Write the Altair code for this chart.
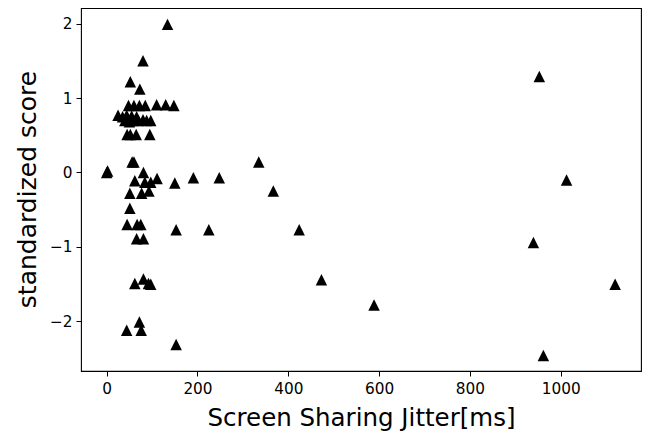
import altair as alt
import pandas as pd

jitter_ms = [
    0, 2, 134, 80, 52, 73,
    48, 60, 72, 85, 110, 130, 148,
    25, 35, 44, 55, 66,
    40, 50, 60, 70, 80, 88, 97,
    45, 52, 65, 95,
    56, 60, 335, 81,
    62, 84, 97, 111, 150, 191, 248,
    367, 51, 77, 93, 51,
    45, 67, 75, 153, 225, 424,
    66, 81, 62, 81, 92, 97,
    72, 44, 76, 153, 473, 589,
    953, 1013, 940, 1120, 962,
]
score = [
    0.0, 0.02, 1.99, 1.50, 1.22, 1.12,
    0.90, 0.90, 0.90, 0.90, 0.91, 0.91, 0.90,
    0.77, 0.75, 0.77, 0.76, 0.75,
    0.70, 0.68, 0.70, 0.70, 0.71, 0.70, 0.70,
    0.51, 0.51, 0.51, 0.51,
    0.14, 0.14, 0.14, 0.0,
    -0.11, -0.13, -0.13, -0.08, -0.14, -0.07, -0.07,
    -0.25, -0.28, -0.28, -0.25, -0.48,
    -0.70, -0.70, -0.70, -0.77, -0.77, -0.77,
    -0.89, -0.89, -1.49, -1.43, -1.49, -1.50,
    -2.01, -2.12, -2.12, -2.31, -1.44, -1.78,
    1.29, -0.10, -0.94, -1.50, -2.46,
]
x_ticks = [0, 200, 400, 600, 800, 1000]
y_ticks = [-2, -1, 0, 1, 2]

df = pd.DataFrame({"jitter": jitter_ms, "score": score})

FONT = "DejaVu Sans"

chart = (
    alt.Chart(df)
    .mark_point(
        shape="M0,-1L1,1L-1,1Z",
        filled=True,
        color="black",
        opacity=1,
        size=132,
    )
    .encode(
        x=alt.X(
            "jitter:Q",
            scale=alt.Scale(domain=[-56.6, 1177], nice=False, zero=False),
            axis=alt.Axis(
                values=x_ticks,
                format="d",
                title="Screen Sharing Jitter[ms]",
                titleFontSize=24.5,
                titleFontWeight="normal",
                titleFont=FONT,
                titleColor="black",
                titleBaseline="alphabetic",
                titleY=54,
                labelFontSize=15.3,
                labelFont=FONT,
                labelColor="black",
                labelPadding=5,
                tickSize=5,
                tickColor="black",
                tickWidth=1,
                domain=False,
                grid=False,
            ),
        ),
        y=alt.Y(
            "score:Q",
            scale=alt.Scale(domain=[-2.667, 2.21], nice=False, zero=False),
            axis=alt.Axis(
                values=y_ticks,
                format="d",
                title="standardized score",
                titleFontSize=25,
                titleFontWeight="normal",
                titleFont=FONT,
                titleColor="black",
                titleX=-54,
                titleY=181,
                titleAlign="center",
                titleBaseline="middle",
                titleAngle=270,
                labelFontSize=15.3,
                labelFont=FONT,
                labelColor="black",
                labelPadding=4,
                tickSize=5,
                tickColor="black",
                tickWidth=1,
                domain=False,
                grid=False,
            ),
        ),
    )
    .properties(
        width=560,
        height=363,
        autosize=alt.AutoSizeParams(type="none"),
        padding={"left": 73, "top": 0, "right": 1, "bottom": 63},
    )
    .configure(background="white")
    .configure_view(stroke="black", strokeWidth=1.1, strokeOpacity=1)
)

chart.save("out.html", embed_options={"renderer": "svg", "actions": False})
